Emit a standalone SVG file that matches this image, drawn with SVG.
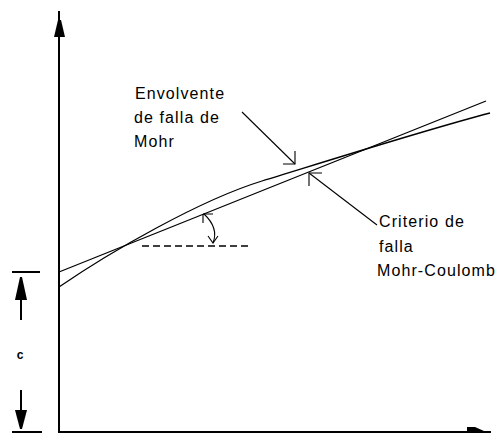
<svg xmlns="http://www.w3.org/2000/svg" width="499" height="433" viewBox="0 0 499 433">
<defs>
<style>
.ax{stroke:#000;stroke-width:2;fill:none}
.ln{stroke:#000;stroke-width:1.3;fill:none}
.th{stroke:#000;stroke-width:1.1;fill:none}
.hd{fill:#000;stroke:none}
.t{font-family:"Liberation Sans",Arial,sans-serif;font-size:16px;letter-spacing:1.1px;fill:#000}
.c{font-family:"Liberation Sans",Arial,sans-serif;font-size:12px;font-weight:bold;fill:#000}
</style>
</defs>
<rect width="499" height="433" fill="#fff"/>
<g id="axes">
<line class="ax" x1="59" y1="11" x2="59" y2="432"/>
<line class="ax" x1="58" y1="432" x2="491" y2="432"/>
<path class="hd" d="M58,20 L61,20 L65,37 L54,37 Z"/>
<path class="hd" d="M467,427 L475,427 L484,431 L467,431 Z"/>
</g>
<g id="cohesion">
<line class="ax" x1="12" y1="272" x2="40" y2="272"/>
<line class="ax" x1="12" y1="432" x2="42" y2="432"/>
<line class="ax" x1="21" y1="290" x2="21" y2="320"/>
<path class="hd" d="M20,277 L22,277 L27,300 L15,300 Z"/>
<line class="ax" x1="21" y1="390" x2="21" y2="415"/>
<path class="hd" d="M15,410 L27,410 L22,429 L20,429 Z"/>
<text class="c" x="20" y="359" text-anchor="middle">c</text>
</g>
<g id="mohr-coulomb">
<line class="ln" x1="59" y1="272" x2="486" y2="101"/>
</g>
<g id="envelope">
<path class="ln" d="M59,287 C110,252 200,200 262,181 S425,130 490,113"/>
</g>
<g id="angle">
<line x1="142" y1="246" x2="250" y2="246" stroke="#000" stroke-width="1.4" stroke-dasharray="7 4"/>
<path class="th" d="M204,214 Q219,228 213,243"/>
<path class="th" d="M203,214 L213,214 M203,214 L203,223"/>
<path class="th" d="M208,236 L213,243 L218,236"/>
</g>
<g id="labels">
<text class="t" x="135" y="99">Envolvente</text>
<text class="t" x="134" y="123">de falla de</text>
<text class="t" x="134" y="147">Mohr</text>
<text class="t" x="379" y="227">Criterio de</text>
<text class="t" x="379" y="252">falla</text>
<text class="t" x="377" y="276">Mohr-Coulomb</text>
</g>
<g id="connectors">
<line class="th" x1="242" y1="112" x2="295" y2="164"/>
<path class="th" d="M283,164 L295,164 L295,151"/>
<line class="th" x1="377" y1="225" x2="309" y2="173"/>
<path class="th" d="M322,173 L309,173 L309,186"/>
</g>
</svg>
